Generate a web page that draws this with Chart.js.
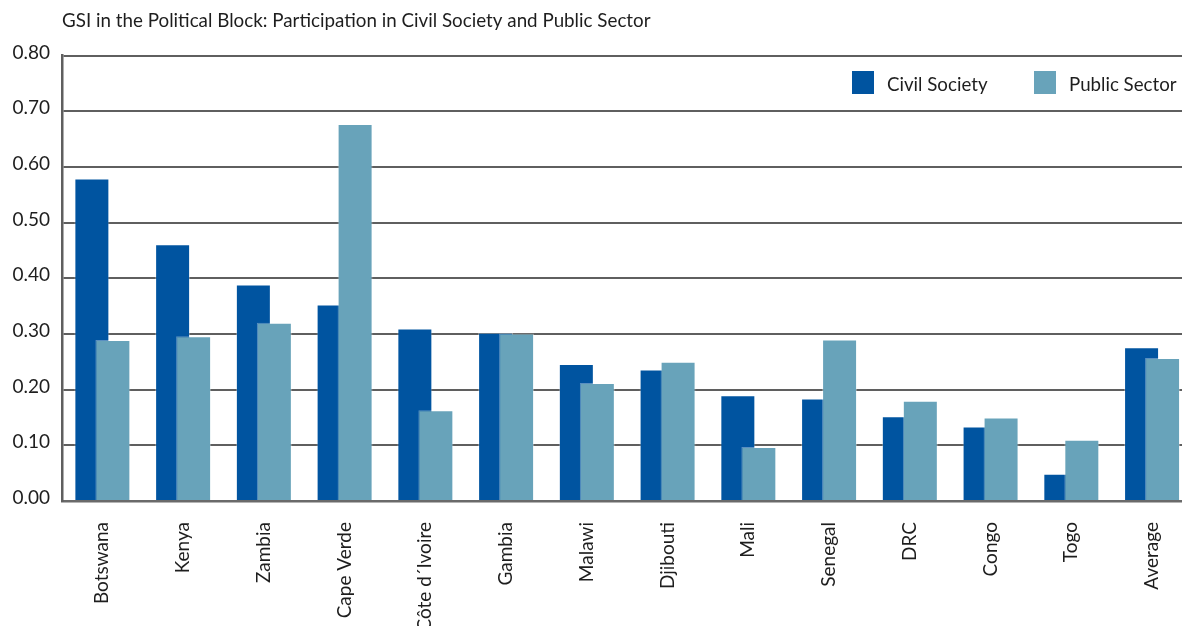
<!DOCTYPE html>
<html>
<head>
<meta charset="utf-8">
<script src="https://cdn.jsdelivr.net/npm/chart.js@4.4.1/dist/chart.umd.min.js"></script>
<style>
  body { margin: 0; background: #fff; overflow: hidden; }
  #wrap { width: 1196px; height: 626px; }
</style>
</head>
<body>
<div id="wrap"><canvas id="gsiChart"></canvas></div>
<script>
// Values
var countries = ["Botswana", "Kenya", "Zambia", "Cape Verde", "Côte d´Ivoire", "Gambia", "Malawi",
                 "Djibouti", "Mali", "Senegal", "DRC", "Congo", "Togo", "Average"];
var civilSociety = [0.579, 0.461, 0.389, 0.353, 0.310, 0.302, 0.246, 0.236, 0.190, 0.184, 0.152, 0.134, 0.049, 0.276];
var publicSector = [0.289, 0.296, 0.320, 0.677, 0.163, 0.301, 0.212, 0.250, 0.097, 0.290, 0.180, 0.150, 0.110, 0.257];
var yTicks = [0, 0.1, 0.2, 0.3, 0.4, 0.5, 0.6, 0.7, 0.8];

var civilColor = "#0054a0";
var publicColor = "#68a3ba";
var textColor = "#1e1e1e";
var gridColor = "#5f5f5f";

// public sector bars sit on top of the civil society bars
var publicOnTop = {
  id: "publicOnTop",
  beforeDatasetsDraw: function(chart) {
    chart.getDatasetMeta(0).controller.draw();
  },
  beforeDatasetDraw: function(chart, args) {
    if (args.index === 0) return false;
  }
};

// legend in the top right corner of the plot
var cornerLegend = {
  id: "cornerLegend",
  afterDraw: function(chart) {
    var ctx = chart.ctx;
    var boxX = [852, 1034];
    ctx.save();
    ctx.font = "18.7px Lato";
    ctx.textBaseline = "middle";
    chart.data.datasets.forEach(function(ds, i) {
      ctx.fillStyle = ds.backgroundColor;
      ctx.fillRect(boxX[i], 71, 22, 23);
      ctx.fillStyle = textColor;
      ctx.fillText(ds.label, boxX[i] + 35, 85);
    });
    ctx.restore();
  }
};

new Chart("gsiChart", {
  type: "bar",
  data: {
    labels: countries,
    datasets: [
      {
        label: "Civil Society",
        data: civilSociety,
        backgroundColor: civilColor,
        borderColor: "rgba(255,255,255,0.35)",
        borderWidth: 1
      },
      {
        label: "Public Sector",
        data: publicSector,
        backgroundColor: publicColor,
        borderColor: "rgba(255,255,255,0.35)",
        borderWidth: 1
      }
    ]
  },
  options: {
    responsive: true,
    maintainAspectRatio: false,
    animation: false,
    categoryPercentage: 0.52,
    barPercentage: 1.667,
    layout: { padding: { top: 0, right: 0, bottom: 0, left: 0 } },
    plugins: {
      legend: { display: false },
      tooltip: { enabled: false },
      title: {
        display: true,
        text: "GSI in the Political Block: Participation in Civil Society and Public Sector",
        align: "start",
        fullSize: false,
        color: textColor,
        font: { family: "Lato", size: 18.8, weight: "normal" },
        padding: { top: 10, bottom: 23 }
      }
    },
    scales: {
      x: {
        grid: { display: false, drawTicks: false },
        border: { display: true, color: "#6a6a6a", width: 2.5 },
        ticks: {
          autoSkip: false,
          minRotation: 90,
          maxRotation: 90,
          padding: 21,
          color: textColor,
          font: { family: "Lato", size: 19 }
        },
        afterFit: function(scale) { scale.height = 125; }
      },
      y: {
        min: 0,
        max: 0.8,
        afterBuildTicks: function(scale) {
          scale.ticks = yTicks.map(function(v) { return { value: v }; });
        },
        grid: { color: gridColor, lineWidth: 2, drawTicks: false },
        border: { display: true, color: gridColor, width: 2.5 },
        ticks: {
          padding: 12,
          labelOffset: -3,
          color: textColor,
          font: { family: "Lato", size: 19 },
          callback: function(v) { return Number(v).toFixed(2); }
        },
        afterFit: function(scale) { scale.width = 62; }
      }
    }
  },
  plugins: [publicOnTop, cornerLegend]
});
</script>
</body>
</html>
